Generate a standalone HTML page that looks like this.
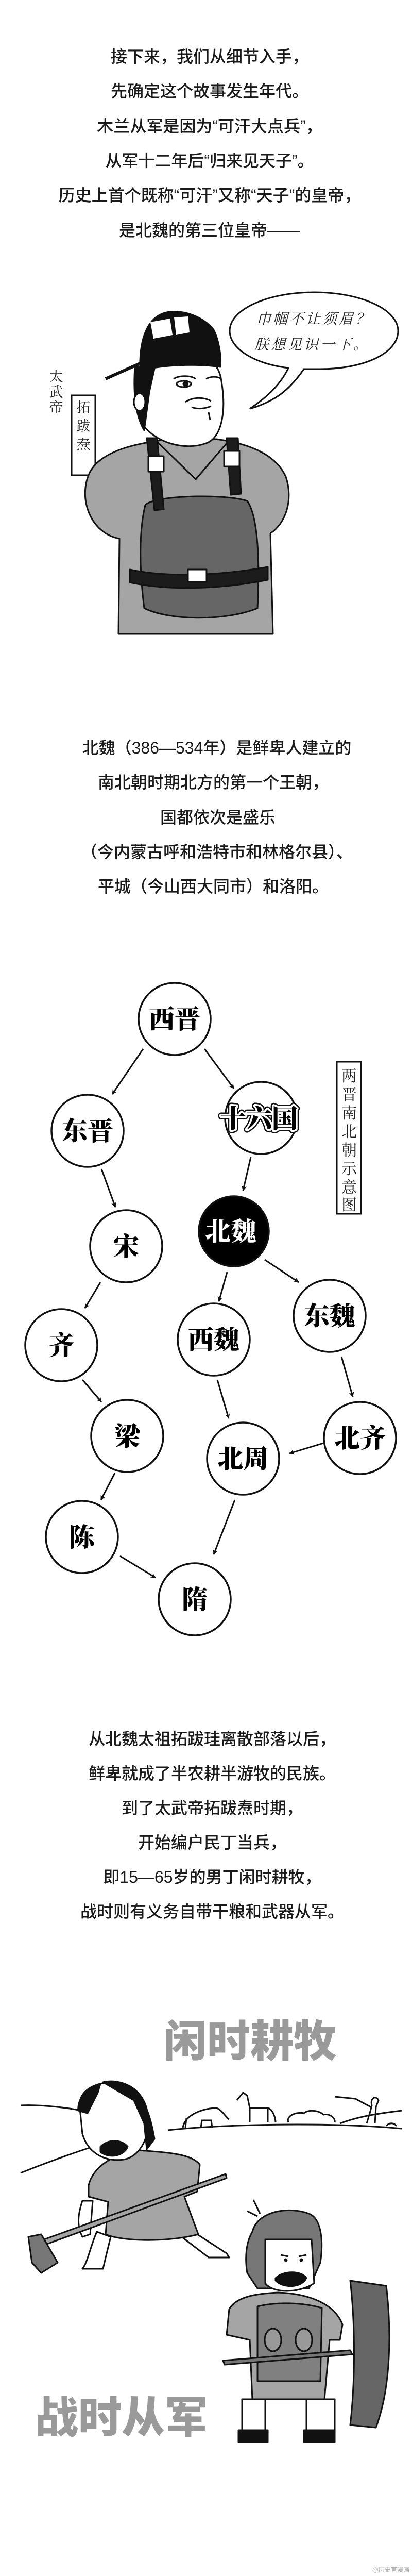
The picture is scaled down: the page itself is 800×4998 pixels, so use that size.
<!DOCTYPE html>
<html><head><meta charset="utf-8">
<style>
html,body{margin:0;padding:0;background:#fff;}
body{width:800px;height:4998px;overflow:hidden;position:relative;}
svg{position:absolute;left:0;top:0;}
.t{font-family:"Liberation Sans","Noto Sans CJK SC",sans-serif;font-size:32px;font-weight:500;fill:#1a1a1a;text-anchor:middle;}
.n{font-family:"Liberation Serif","Noto Serif CJK SC",serif;font-weight:900;font-size:50px;fill:#000;text-anchor:middle;}
.big{font-family:"Liberation Sans","Noto Sans CJK SC",sans-serif;font-weight:900;font-size:84px;fill:#9a9a9a;}
.v{font-family:"Liberation Serif","Noto Serif CJK SC",serif;font-size:30px;fill:#222;text-anchor:middle;}
</style></head><body>
<svg width="800" height="4998" viewBox="0 0 800 4998" xmlns="http://www.w3.org/2000/svg">
<defs>
<marker id="ah" markerWidth="10" markerHeight="10" refX="9" refY="5" orient="auto" markerUnits="userSpaceOnUse" viewBox="0 0 10 10">
<path d="M0,0 L10,5 L0,10 L3,5 z" fill="#111"/>
</marker>
</defs>
<g class="t">
<text x="407" y="121">接下来，我们从细节入手，</text>
<text x="407" y="188">先确定这个故事发生年代。</text>
<text x="407" y="256">木兰从军是因为“可汗大点兵”，</text>
<text x="407" y="323">从军十二年后“归来见天子”。</text>
<text x="407" y="390">历史上首个既称“可汗”又称“天子”的皇帝，</text>
<text x="407" y="458">是北魏的第三位皇帝——</text>
</g>

<path d="M610,567 C700,567 773,600 773,642 C773,684 710,716 620,716 L590,716 C560,760 530,780 485,793 C520,770 545,745 560,714 C490,705 446,675 446,642 C446,600 520,567 610,567 Z" fill="#fff" stroke="#111" stroke-width="3"/>
<text x="610" y="628" style="font-family:'Liberation Serif','Noto Serif CJK SC',serif;font-style:italic;font-size:28px;fill:#222;text-anchor:middle;letter-spacing:4px">巾帼不让须眉？</text>
<text x="606" y="678" style="font-family:'Liberation Serif','Noto Serif CJK SC',serif;font-style:italic;font-size:28px;fill:#222;text-anchor:middle;letter-spacing:4px">朕想见识一下。</text>

<g class="v" style="font-size:27px">
<text x="109" y="740">太</text><text x="109" y="770">武</text><text x="109" y="800">帝</text>
</g>
<rect x="139" y="767" width="46" height="155" fill="#fff" stroke="#111" stroke-width="3"/>
<g class="v" style="font-size:27px">
<text x="162" y="800">拓</text><text x="162" y="836">跋</text><text x="162" y="872">焘</text>
</g>

<g stroke="#111" stroke-width="3" stroke-linejoin="round">
<path d="M175,915 C200,870 280,858 330,852 L420,852 C480,860 535,880 555,925 C570,970 555,1015 525,1035 L530,1230 L230,1230 L232,1045 C175,1035 150,965 175,915 Z" fill="#a5a5a5"/>
<path d="M300,852 L380,930 L440,860" fill="none"/>
<path d="M282,980 C300,960 440,958 480,972 C500,1000 505,1080 500,1180 C440,1205 330,1205 280,1180 C270,1100 270,1030 282,980 Z" fill="#666"/>
<path d="M285,850 L300,990 L318,988 L305,850 Z" fill="#1c1c1c"/>
<path d="M440,850 L448,960 L468,958 L462,850 Z" fill="#1c1c1c"/>
<rect x="288" y="885" width="30" height="30" fill="#fff"/>
<rect x="435" y="875" width="30" height="30" fill="#fff"/>
<path d="M252,1105 C320,1120 420,1118 520,1100 L520,1125 C420,1145 320,1145 252,1130 Z" fill="#1c1c1c"/>
<rect x="365" y="1105" width="36" height="24" fill="#fff"/>
<path d="M265,735 C262,700 300,690 350,690 C400,690 425,700 430,740 C440,800 430,850 400,860 C360,875 300,860 275,820 C265,790 265,760 265,735 Z" fill="#fff"/>
<path d="M262,712 C258,770 265,810 280,835 L290,760 L300,715 Z" fill="#111"/>
<ellipse cx="271" cy="780" rx="11" ry="17" fill="#fff"/>
<path d="M272,720 C270,660 285,610 330,605 C360,602 395,615 415,640 C425,660 430,690 428,712 C380,705 310,708 272,720 Z" fill="#111"/>
<path d="M292,625 L330,618 L335,650 L298,657 Z M338,616 L365,614 L368,645 L342,650 Z" fill="#fff" stroke="none"/>
<path d="M272,705 L205,735" stroke-width="6"/>
</g>
<g stroke="#111" stroke-width="3" fill="none">
<path d="M337,735 C348,728 370,728 380,735"/>
<ellipse cx="357" cy="745" rx="14" ry="6" fill="#fff"/>
<circle cx="360" cy="745" r="4" fill="#111"/>
<path d="M400,735 C410,730 420,730 428,734"/>
<path d="M360,780 C375,770 395,770 410,778 M372,790 C385,795 400,792 410,788"/>
<path d="M405,800 L408,815"/>
</g>

<g class="t">
<text x="421" y="1462">北魏（386—534年）是鲜卑人建立的</text>
<text x="414" y="1529">南北朝时期北方的第一个王朝，</text>
<text x="423" y="1597">国都依次是盛乐</text>
<text x="421" y="1664">（今内蒙古呼和浩特市和林格尔县）、</text>
<text x="414" y="1731">平城（今山西大同市）和洛阳。</text>
</g>

<g fill="#fff" stroke="#111" stroke-width="3.5">
<circle cx="339" cy="1977" r="70"/>
<circle cx="170" cy="2194" r="70"/>
<circle cx="507" cy="2169" r="70"/>
<circle cx="454" cy="2389" r="68" fill="#000"/>
<circle cx="245" cy="2418" r="70"/>
<circle cx="640" cy="2553" r="70"/>
<circle cx="415" cy="2599" r="70"/>
<circle cx="119" cy="2610" r="70"/>
<circle cx="247" cy="2786" r="70"/>
<circle cx="699" cy="2790" r="70"/>
<circle cx="472" cy="2830" r="70"/>
<circle cx="159" cy="2982" r="70"/>
<circle cx="378" cy="3103" r="70"/>
</g>
<g stroke="#111" stroke-width="3" marker-end="url(#ah)" fill="none">
<line x1="278" y1="2035" x2="218" y2="2123"/>
<line x1="397" y1="2035" x2="454" y2="2112"/>
<line x1="197" y1="2268" x2="224" y2="2342"/>
<line x1="487" y1="2245" x2="472" y2="2310"/>
<line x1="195" y1="2488" x2="165" y2="2538"/>
<line x1="441" y1="2468" x2="425" y2="2525"/>
<line x1="514" y1="2444" x2="580" y2="2488"/>
<line x1="160" y1="2677" x2="197" y2="2720"/>
<line x1="422" y1="2677" x2="444" y2="2752"/>
<line x1="663" y1="2632" x2="685" y2="2710"/>
<line x1="628" y1="2800" x2="562" y2="2820"/>
<line x1="223" y1="2858" x2="196" y2="2910"/>
<line x1="456" y1="2910" x2="415" y2="3016"/>
<line x1="233" y1="3019" x2="302" y2="3061"/>
</g>
<g class="n">
<text x="339" y="1995">西晋</text>
<text x="170" y="2212">东晋</text>
<text x="503" y="2188" stroke="#111" stroke-width="12" stroke-linejoin="round">十六国</text>
<text x="503" y="2188" stroke="#fff" stroke-width="7" stroke-linejoin="round">十六国</text>
<text x="503" y="2188">十六国</text>
<text x="448" y="2407" fill="#fff">北魏</text>
<text x="245" y="2436">宋</text>
<text x="640" y="2571">东魏</text>
<text x="415" y="2617">西魏</text>
<text x="119" y="2628">齐</text>
<text x="247" y="2804">梁</text>
<text x="699" y="2808">北齐</text>
<text x="472" y="2848">北周</text>
<text x="159" y="3000">陈</text>
<text x="378" y="3121">隋</text>
</g>
<rect x="654" y="2060" width="47" height="295" fill="#fff" stroke="#111" stroke-width="3"/>
<g class="v">
<text x="678" y="2098">两</text><text x="678" y="2134">晋</text><text x="678" y="2170">南</text><text x="678" y="2206">北</text>
<text x="678" y="2242">朝</text><text x="678" y="2278">示</text><text x="678" y="2314">意</text><text x="678" y="2348">图</text>
</g>

<g class="t">
<text x="412" y="3385">从北魏太祖拓跋珪离散部落以后，</text>
<text x="412" y="3452">鲜卑就成了半农耕半游牧的民族。</text>
<text x="412" y="3519">到了太武帝拓跋焘时期，</text>
<text x="412" y="3586">开始编户民丁当兵，</text>
<text x="412" y="3653">即15—65岁的男丁闲时耕牧，</text>
<text x="412" y="3720">战时则有义务自带干粮和武器从军。</text>
</g>

<text class="big" x="318" y="3990">闲时耕牧</text>

<g stroke="#111" stroke-width="3" fill="none">
<path d="M40,4085 C80,4083 140,4090 170,4098"/>
<path d="M326,4133 C450,4120 650,4118 780,4130"/>
<path d="M40,4216 C90,4196 140,4178 183,4164"/>
<path d="M660,4120 C700,4105 740,4100 780,4095"/>
<path d="M355,4128 C360,4100 400,4090 420,4090 C430,4092 440,4110 445,4112 M360,4128 L362,4110 M390,4128 L392,4114 L410,4114 L412,4128"/>
<path d="M460,4075 L472,4060 L480,4066 L485,4090 L520,4090 C530,4092 535,4110 535,4118 M485,4090 L485,4118 M520,4090 L520,4118"/>
<path d="M560,4118 C555,4105 575,4097 590,4100 C600,4092 620,4095 628,4103 C640,4100 652,4110 650,4118"/>
<path d="M712,4120 L718,4100 L722,4085 C718,4070 730,4065 735,4075 L730,4088 L728,4120 M720,4088 L690,4072 L650,4068"/>
<path d="M750,4125 C755,4118 765,4118 770,4125"/>
</g>

<g stroke="#111" stroke-width="3" stroke-linejoin="round">
<path d="M188,4330 C175,4360 170,4390 160,4402 L200,4402 C205,4380 210,4360 215,4340 Z" fill="#fff"/>
<path d="M340,4330 L405,4380 L445,4380 L440,4372 L360,4320 Z" fill="#fff"/>
<path d="M172,4240 C180,4205 220,4178 270,4172 C320,4176 372,4178 388,4200 L383,4252 L358,4262 L385,4335 C330,4350 240,4350 205,4335 L210,4272 L172,4262 Z" fill="#a5a5a5"/>
<path d="M160,4270 C150,4300 150,4320 160,4340 L175,4335 L180,4270 Z" fill="#fff"/>
<path d="M155,4090 C150,4060 180,4040 220,4040 C260,4040 285,4070 288,4110 C290,4150 270,4185 240,4190 C200,4195 170,4175 160,4140 Z" fill="#fff"/>
<path d="M200,4040 C220,4035 250,4040 265,4060 C285,4080 295,4120 300,4150 L285,4170 L280,4120 L260,4075 Z" fill="#111"/>
<path d="M152,4095 C150,4075 165,4050 195,4043 L190,4060 L170,4100 Z" fill="#111"/>
<path d="M195,4165 C210,4150 235,4150 248,4165 C240,4185 210,4188 195,4175 Z" fill="#111"/>
<path d="M69,4362 L440,4226 L438,4218 L66,4352 Z" fill="#a5a5a5"/>
<path d="M55,4340 L80,4335 L112,4390 L80,4410 L62,4390 Z" fill="#777"/>
</g>

<g stroke="#111" stroke-width="3" stroke-linejoin="round">
<path d="M470,4655 L470,4735 L515,4735 L515,4655 Z M595,4655 L595,4735 L650,4735 L650,4655 Z" fill="#fff"/>
<path d="M463,4715 L520,4715 L520,4738 L463,4738 Z M590,4715 L650,4715 L650,4738 L590,4738 Z" fill="#111"/>
<path d="M445,4480 C460,4455 500,4450 540,4448 C600,4450 650,4470 665,4510 L660,4540 L640,4540 L630,4655 L490,4655 L485,4540 L440,4530 Z" fill="#a5a5a5"/>
<path d="M500,4475 C540,4465 590,4468 625,4478 L622,4620 L500,4620 Z" fill="#808080"/>
<ellipse cx="530" cy="4540" rx="16" ry="22" fill="#999"/>
<ellipse cx="590" cy="4540" rx="16" ry="22" fill="#999"/>
<path d="M433,4580 L680,4560 L684,4568 L436,4588 Z" fill="#777"/>
<path d="M490,4330 C500,4290 560,4280 600,4295 C625,4305 628,4350 622,4390 L600,4440 L500,4440 L480,4410 C475,4380 478,4350 490,4330 Z" fill="#777"/>
<path d="M515,4345 L605,4345 L610,4430 C580,4450 530,4450 515,4430 Z" fill="#fff"/>
<path d="M535,4420 C550,4405 585,4405 595,4420 C585,4440 550,4440 535,4425 Z" fill="#111"/>
<path d="M680,4425 L750,4435 C760,4520 760,4630 730,4710 L680,4705 C690,4620 690,4510 680,4425 Z" fill="#666"/>
<path d="M492,4268 L505,4295 M480,4290 L500,4300" fill="none"/>
</g>
<g stroke="#111" stroke-width="3" fill="none">
<path d="M545,4375 L560,4378 M580,4378 L595,4375"/>
<circle cx="555" cy="4385" r="2" fill="#111"/>
<circle cx="585" cy="4385" r="2" fill="#111"/>
</g>

<text class="big" x="68" y="4720">战时从军</text>

<text x="795" y="4990" style="font-family:'Liberation Sans','Noto Sans CJK SC',sans-serif;font-size:12px;fill:#aaa;text-anchor:end">@历史官漫画</text>
</svg>
</body></html>
